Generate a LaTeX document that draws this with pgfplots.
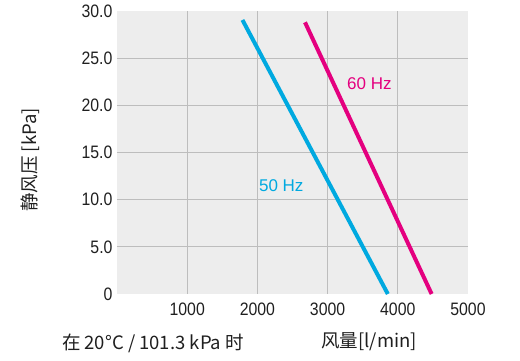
\documentclass[border=0pt]{standalone}
\usepackage{fontspec}
\usepackage{pgfplots}
\pgfplotsset{compat=1.18}
\setmainfont{Liberation Sans}
\newfontfamily\cjk{Noto Sans CJK SC}
\newfontfamily\tickfont[FakeStretch=0.88]{Liberation Sans}
\definecolor{bgc}{HTML}{EDEDED}
\definecolor{gridc}{HTML}{BDBDBD}
\definecolor{hzblue}{HTML}{00A9E0}
\definecolor{hzmag}{HTML}{E4007F}
\begin{document}
\begin{tikzpicture}
\path (-117pt,-67pt) rectangle (403pt,294pt);
\begin{axis}[
  scale only axis, width=351pt, height=283pt,
  xmin=0, xmax=5000, ymin=0, ymax=30,
  axis line style={draw=none},
  axis background/.style={fill=bgc},
  major tick style={draw=none}, minor tick style={draw=none},
  xtick={1000,2000,3000,4000,5000},
  xticklabels={1000,2000,3000,4000,5000},
  ytick={0,5,10,15,20,25,30},
  yticklabels={0,5.0,10.0,15.0,20.0,25.0,30.0},
  minor xtick={1000,2000,3000,4000},
  minor ytick={5,10,15,20,25},
  grid=minor,
  minor grid style={gridc, line width=0.9pt},
  tick label style={font=\fontsize{18}{18}\tickfont, text=black!88},
  yticklabel style={xshift=-1pt},
  xticklabel style={yshift=-5pt},
  clip=false,
]
\addplot[hzblue, line width=4pt] coordinates {(1787,29.05) (3858,0)};
\addplot[hzmag, line width=4pt] coordinates {(2678,28.8) (4482,0)};
\node[text=hzmag, font=\fontsize{17}{17}\selectfont] at (axis cs:3596,22.26) {60 Hz};
\node[text=hzblue, font=\fontsize{17}{17}\selectfont] at (axis cs:2340,11.45) {50 Hz};
\end{axis}
\node[rotate=90, font=\fontsize{18.5}{18.5}\cjk, text=black!88] at (-87pt,134pt) {静风压 [kPa]};
\node[font=\fontsize{18.5}{18.5}\cjk, text=black!88] at (36pt,-49pt) {在 20°C / 101.3 kPa 时};
\node[font=\fontsize{18.5}{18.5}\cjk, text=black!88] at (252pt,-48pt) {风量[l/min]};
\end{tikzpicture}
\end{document}
